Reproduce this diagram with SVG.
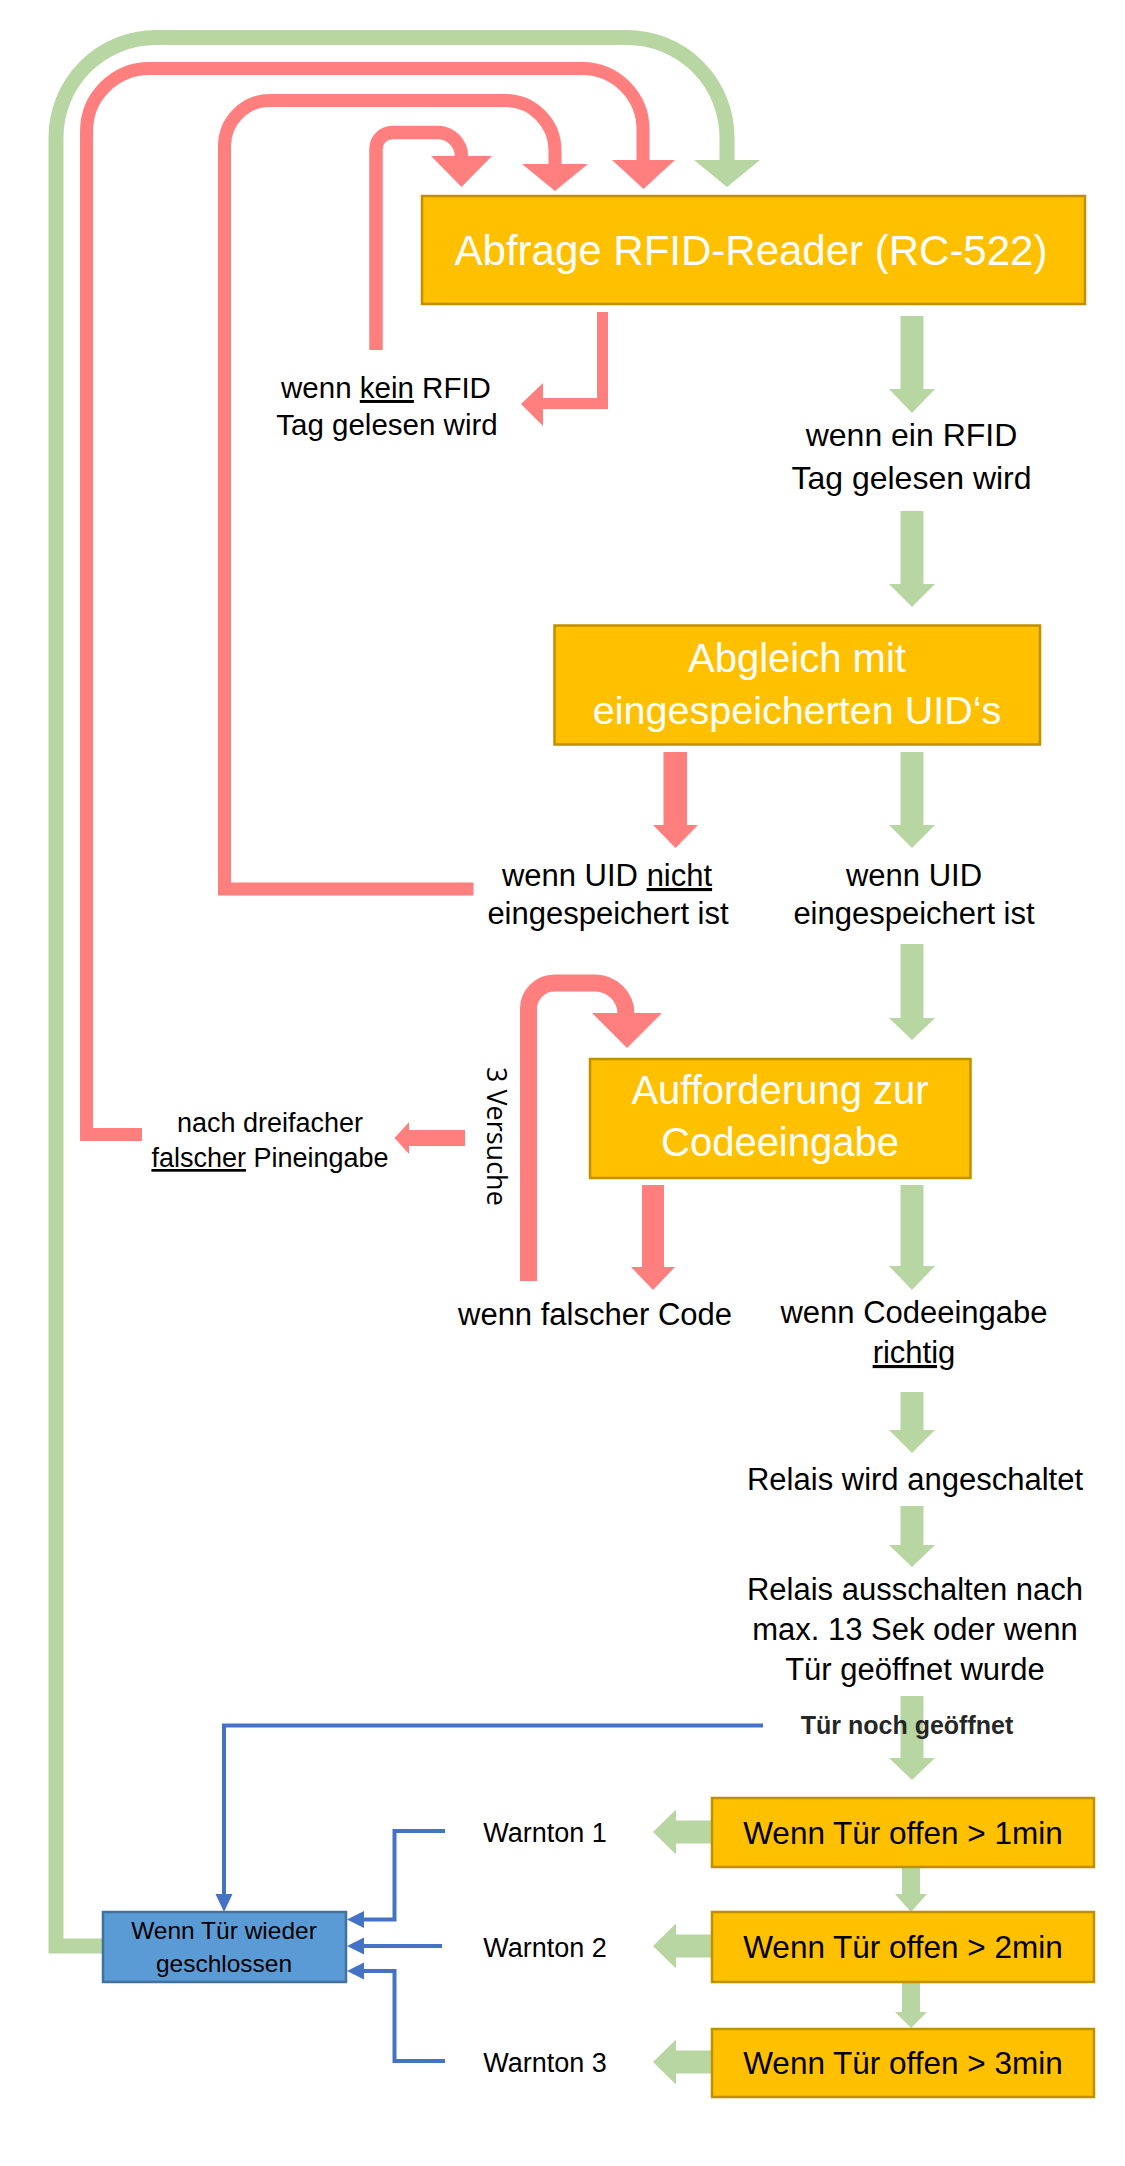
<svg xmlns="http://www.w3.org/2000/svg" width="1125" height="2166" viewBox="0 0 1125 2166">
<style>
text{font-family:"Liberation Sans",Arial,sans-serif;fill:#000;text-anchor:middle}
.lbl{font-size:31px}
.sm{font-size:27px}
.bt{font-size:40px;fill:#fff}
.box{fill:#FFC000;stroke:#BF9000;stroke-width:2.5}
.red{fill:none;stroke:#FF7F7F;stroke-linejoin:miter;stroke-linecap:butt}
.grn{fill:none;stroke:#B8D6A2;stroke-linejoin:miter;stroke-linecap:butt}
.rf{fill:#FF7F7F}
.gf{fill:#B8D6A2}
.bl{fill:none;stroke:#4472C4;stroke-width:4}
.bf{fill:#4472C4}
.u{text-decoration:underline}
</style>
<rect width="1125" height="2166" fill="#fff"/>
<g id="connectors">
  <!-- big loops at top -->
  <path class="grn" stroke-width="15" d="M103,1946 H56 V137.5 A100,100 0 0 1 156,37.5 H627 A100,100 0 0 1 727,137.5 V161"/>
  <polygon class="gf" points="694,160 760,160 727,187"/>
  <path class="red" stroke-width="13" d="M142,1134.5 H86.5 V131.5 A63,63 0 0 1 149.5,68.5 H582 A61,61 0 0 1 643,129.5 V161"/>
  <polygon class="rf" points="612,160 675,160 643.5,189"/>
  <path class="red" stroke-width="13" d="M473.5,889 H224.5 V146 A45.5,45.5 0 0 1 270,100.5 H505 A50,50 0 0 1 555,150.5 V165"/>
  <polygon class="rf" points="522,164 588,164 555,191"/>
  <path class="red" stroke-width="13.5" d="M376,350 V149 A16.5,16.5 0 0 1 392.5,132.5 H437.5 A24,24 0 0 1 461.5,156.5 V157"/>
  <polygon class="rf" points="431,156 492,156 461.5,187"/>
  <!-- kein RFID -->
  <path class="red" stroke-width="11" d="M602.5,312 V403.5 H542"/>
  <polygon class="rf" points="543,383 543,426 521,404"/>
  <!-- 3 Versuche loop -->
  <path class="red" stroke-width="17" d="M528.5,1281 V1009 A26,26 0 0 1 554.5,983 H595 A31,31 0 0 1 626,1014 V1015"/>
  <polygon class="rf" points="592,1013 662,1013 627,1048"/>
  <!-- red down arrows -->
  <polygon class="rf" points="663.5,752 687,752 687,825 698,825 675.5,848 653,825 663.5,825"/>
  <polygon class="rf" points="642,1185 664,1185 664,1267 675,1267 653,1290 631,1267 642,1267"/>
  <polygon class="rf" points="465,1130 409,1130 409,1122 394.5,1138 409,1154 409,1146 465,1146"/>
  <!-- main green arrows -->
  <polygon class="gf" points="900.5,316 923.5,316 923.5,389 935,389 912,413 889,389 900.5,389"/>
  <polygon class="gf" points="900.5,511 923.5,511 923.5,584 935,584 912,607 889,584 900.5,584"/>
  <polygon class="gf" points="900.5,752 923.5,752 923.5,825 935,825 912,848 889,825 900.5,825"/>
  <polygon class="gf" points="900.5,944 923.5,944 923.5,1018 935,1018 912,1040 889,1018 900.5,1018"/>
  <polygon class="gf" points="900.5,1185 923.5,1185 923.5,1266 935,1266 912,1290 889,1266 900.5,1266"/>
  <polygon class="gf" points="900.5,1392 923.5,1392 923.5,1430 935,1430 912,1453 889,1430 900.5,1430"/>
  <polygon class="gf" points="900.5,1506 923.5,1506 923.5,1545 935,1545 912,1567 889,1545 900.5,1545"/>
  <polygon class="gf" points="900.5,1696 923.5,1696 923.5,1758 935,1758 912,1780 889,1758 900.5,1758"/>
  <!-- small green arrows -->
  <polygon class="gf" points="902,1867 920,1867 920,1894 927,1894 911,1912 895,1894 902,1894"/>
  <polygon class="gf" points="902,1982 920,1982 920,2012 927,2012 911,2028 895,2012 902,2012"/>
  <polygon class="gf" points="712,1820.5 676,1820.5 676,1809.5 653,1832 676,1854.5 676,1843.5 712,1843.5"/>
  <polygon class="gf" points="712,1934.5 676,1934.5 676,1923.5 653,1946 676,1968.5 676,1957.5 712,1957.5"/>
  <polygon class="gf" points="712,2050.5 676,2050.5 676,2039.5 653,2062 676,2084.5 676,2073.5 712,2073.5"/>
  <!-- blue connectors -->
  <path class="bl" d="M763,1725.5 H224 V1895"/>
  <polygon class="bf" points="215.5,1894 232.5,1894 224,1912"/>
  <path class="bl" d="M445,1831 H394.5 V1919.5 H362"/>
  <polygon class="bf" points="364,1911 364,1928 347,1919.5"/>
  <path class="bl" d="M442,1946 H362"/>
  <polygon class="bf" points="364,1937.5 364,1954.5 347,1946"/>
  <path class="bl" d="M445,2061 H394.5 V1971 H362"/>
  <polygon class="bf" points="364,1962.5 364,1979.5 347,1971"/>
</g>
<g id="node-abfrage">
  <rect class="box" x="422" y="196" width="663" height="108"/>
  <text class="bt" x="751" y="265" style="font-size:42px">Abfrage RFID-Reader (RC-522)</text>
</g>
<g id="node-abgleich">
  <rect class="box" x="554.5" y="625.5" width="485.5" height="119"/>
  <text class="bt" x="797" y="672">Abgleich mit</text>
  <text class="bt" x="797" y="724" style="font-size:39.5px">eingespeicherten UID‘s</text>
</g>
<g id="node-aufforderung">
  <rect class="box" x="590" y="1059" width="380.5" height="119"/>
  <text class="bt" x="780" y="1104">Aufforderung zur</text>
  <text class="bt" x="780" y="1156">Codeeingabe</text>
</g>
<g id="node-offen1">
  <rect class="box" x="712" y="1798" width="382" height="69"/>
  <text x="903" y="1844" style="font-size:31.5px">Wenn Tür offen &gt; 1min</text>
</g>
<g id="node-offen2">
  <rect class="box" x="712" y="1912" width="382" height="70"/>
  <text x="903" y="1958" style="font-size:31.5px">Wenn Tür offen &gt; 2min</text>
</g>
<g id="node-offen3">
  <rect class="box" x="712" y="2029" width="382" height="68"/>
  <text x="903" y="2074" style="font-size:31.5px">Wenn Tür offen &gt; 3min</text>
</g>
<g id="node-geschlossen">
  <rect x="103" y="1912" width="243" height="70" fill="#5B9BD5" stroke="#41719C" stroke-width="2.5"/>
  <text x="224" y="1939" style="font-size:24.5px">Wenn Tür wieder</text>
  <text x="224" y="1972" style="font-size:24.5px">geschlossen</text>
</g>
<g id="labels">
  <g id="label-kein-rfid">
    <text x="386" y="398" style="font-size:29.5px">wenn <tspan class="u">kein</tspan> RFID</text>
    <text x="387" y="435" style="font-size:29.5px">Tag gelesen wird</text>
  </g>
  <g id="label-ein-rfid">
    <text x="911.5" y="446" style="font-size:32px">wenn ein RFID</text>
    <text x="911.5" y="489" style="font-size:32px">Tag gelesen wird</text>
  </g>
  <g id="label-uid-nicht">
    <text class="lbl" x="607" y="886">wenn UID <tspan class="u">nicht</tspan></text>
    <text class="lbl" x="608" y="924">eingespeichert ist</text>
  </g>
  <g id="label-uid">
    <text class="lbl" x="914" y="886">wenn UID</text>
    <text class="lbl" x="914" y="924">eingespeichert ist</text>
  </g>
  <g id="label-dreifach">
    <text class="sm" x="270" y="1132">nach dreifacher</text>
    <text class="sm" x="270" y="1167"><tspan class="u">falscher</tspan> Pineingabe</text>
  </g>
  <g id="label-versuche">
    <text transform="translate(487,1067) rotate(90)" x="0" y="0" style="font-family:'Open Sans','Noto Sans',sans-serif;font-size:27px;text-anchor:start">3 Versuche</text>
  </g>
  <g id="label-falsch">
    <text class="lbl" x="595" y="1325">wenn falscher Code</text>
  </g>
  <g id="label-richtig">
    <text class="lbl" x="914" y="1323">wenn Codeeingabe</text>
    <text class="lbl" x="914" y="1363"><tspan class="u">richtig</tspan></text>
  </g>
  <g id="label-relais-an">
    <text class="lbl" x="915" y="1490">Relais wird angeschaltet</text>
  </g>
  <g id="label-relais-aus">
    <text class="lbl" x="915" y="1600">Relais ausschalten nach</text>
    <text class="lbl" x="915" y="1640">max. 13 Sek oder wenn</text>
    <text class="lbl" x="915" y="1680">Tür geöffnet wurde</text>
  </g>
  <g id="label-noch-offen">
    <text x="907" y="1734" style="font-size:25px;font-weight:bold;fill:#262626">Tür noch geöffnet</text>
  </g>
  <g id="label-warnton">
    <text class="sm" x="545" y="1842">Warnton 1</text>
    <text class="sm" x="545" y="1957">Warnton 2</text>
    <text class="sm" x="545" y="2072">Warnton 3</text>
  </g>
</g>
</svg>
